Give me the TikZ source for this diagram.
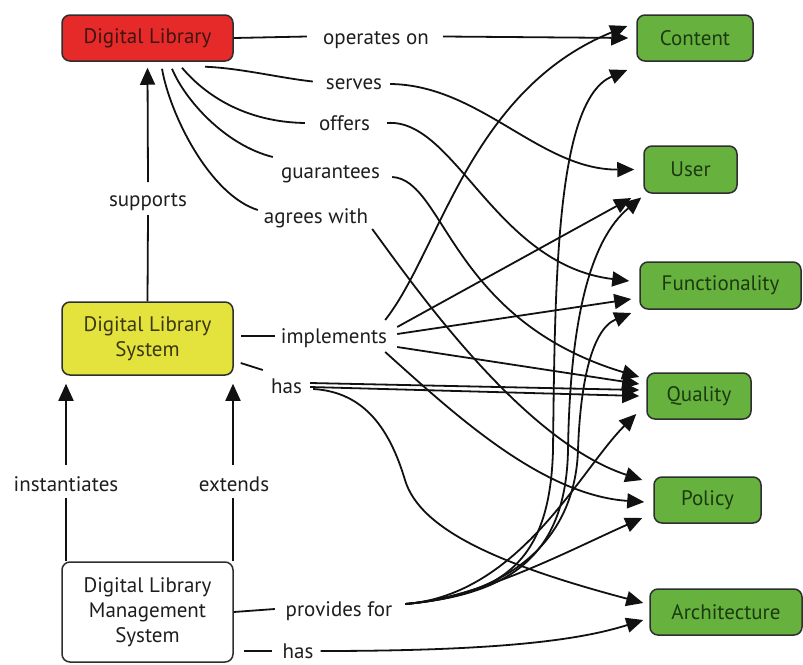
\documentclass[tikz,border=0pt]{standalone}
\usepackage{fontspec}
\setmainfont{PT Sans}
\usetikzlibrary{arrows.meta}
\definecolor{dlred}{HTML}{E62A2A}
\definecolor{dlyellow}{HTML}{E4E23C}
\definecolor{dlgreen}{HTML}{67B23F}
\definecolor{boxline}{HTML}{2E2E2E}
\definecolor{lbltext}{HTML}{1E1E1E}
\definecolor{linecol}{HTML}{111111}
\definecolor{redtext}{HTML}{401510}
\definecolor{greentext}{HTML}{1C3A10}
\definecolor{yellowtext}{HTML}{3A3812}
\newcommand{\lowtxt}[1]{\raisebox{-2.5pt}{#1}}
\begin{document}
\begin{tikzpicture}[x=1pt,y=-1pt,
  box/.style={draw=boxline, line width=1.5pt, rounded corners=8pt, inner sep=0pt, align=center, font=\fontsize{21}{25}\selectfont},
  lbl/.style={inner sep=0pt, anchor=mid, font=\fontsize{21}{25}\selectfont, text=lbltext},
  conn/.style={line width=1.8pt, draw=linecol},
  arr/.style={conn, -{Triangle[length=17pt,width=15pt]}},
]
\fontsize{21}{25}\selectfont
\useasboundingbox[fill=white] (0,0) rectangle (803,664);

% main boxes
\node[box, fill=dlred, text=redtext, minimum width=171pt, minimum height=46pt] (DL) at (147.5,38) {Digital Library};
\node[box, fill=dlyellow, text=yellowtext, minimum width=171pt, minimum height=73pt] (DLS) at (147.5,338.5) {Digital Library\\System};
\node[box, fill=white, text=lbltext, minimum width=171pt, minimum height=100pt] (DLMS) at (147.5,612) {Digital Library\\Management\\System};

% target boxes
\node[box, fill=dlgreen, text=greentext, minimum width=116pt, minimum height=46pt] (content) at (695,38) {Content};
\node[box, fill=dlgreen, text=greentext, minimum width=93pt, minimum height=47pt] (user) at (690.5,169.5) {User};
\node[box, fill=dlgreen, text=greentext, minimum width=161pt, minimum height=47pt] (func) at (720.5,285.5) {Functionality};
\node[box, fill=dlgreen, text=greentext, minimum width=104pt, minimum height=46pt] (quality) at (699,396) {Quality};
\node[box, fill=dlgreen, text=greentext, minimum width=107pt, minimum height=46pt] (policy) at (707.5,500) {Policy};
\node[box, fill=dlgreen, text=greentext, minimum width=152pt, minimum height=46pt] (arch) at (726,612) {Architecture};

% labels
\node[lbl, minimum width=112pt] (ops) at (376,36.5) {\lowtxt{operates on}};
\node[lbl, minimum width=58pt] (serves) at (354,81.5) {\lowtxt{serves}};
\node[lbl, minimum width=53pt] (offers) at (344.5,123) {\lowtxt{offers}};
\node[lbl, minimum width=105pt] (guar) at (330.5,171) {\lowtxt{guarantees}};
\node[lbl, minimum width=108pt] (agrees) at (316,216) {\lowtxt{agrees with}};
\node[lbl, minimum width=82pt] (sup) at (148,199) {\lowtxt{supports}};
\node[lbl, minimum width=112pt] (impl) at (334,336) {\lowtxt{implements}};
\node[lbl, minimum width=31pt] (hasA) at (286.5,386) {\lowtxt{has}};
\node[lbl, minimum width=108pt] (inst) at (66,484) {\lowtxt{instantiates}};
\node[lbl, minimum width=74pt] (ext) at (234,484) {\lowtxt{extends}};
\node[lbl, minimum width=112pt] (prov) at (339,609) {\lowtxt{provides for}};
\node[lbl, minimum width=30pt] (hasB) at (298,651) {\lowtxt{has}};

% Digital Library relations
\draw[conn] (DL.east) -- ([xshift=-13pt]ops.mid west);
\draw[arr] ([xshift=11pt]ops.mid east) -- ([xshift=-8pt]content.west);

\draw[conn] ([xshift=57.5pt,yshift=-5pt]DL.south) .. controls (240,68) and (280,78) .. ([xshift=-12pt]serves.mid west);
\draw[arr] ([xshift=7pt,yshift=-2.5pt]serves.mid east) .. controls (480,85) and (540,170) .. ([xshift=-9pt]user.west);

\draw[conn] ([xshift=34.5pt,yshift=-6pt]DL.south) .. controls (205,95) and (245,122) .. ([xshift=-13pt]offers.mid west);
\draw[arr] ([xshift=16pt]offers.mid east) .. controls (455,118) and (495,265) .. ([xshift=-10pt,yshift=4.5pt]func.west);

\draw[conn] ([xshift=24.5pt,yshift=-7pt]DL.south) .. controls (185,100) and (225,145) .. ([xshift=-5pt,yshift=14pt]guar.mid west);
\draw[arr] ([xshift=9pt,yshift=-6pt]guar.mid east) .. controls (445,180) and (450,320) .. ([xshift=-7pt,yshift=19pt]quality.west);

\draw[conn] ([xshift=14.5pt,yshift=-7pt]DL.south) .. controls (170,115) and (210,195) .. ([xshift=-4pt,yshift=6pt]agrees.mid west);
\draw[arr] ([xshift=2pt,yshift=-13pt]agrees.mid east) .. controls (410,280) and (520,440) .. ([xshift=-11pt,yshift=20pt]policy.west);

% supports / instantiates / extends
\draw[conn] (DLS.north) -- ([yshift=-16pt]sup.mid);
\draw[arr] ([yshift=17pt]sup.mid) -- ([yshift=-6pt]DL.south);

\draw[conn] ([xshift=-81.5pt]DLMS.north) -- ([yshift=-14pt]inst.mid);
\draw[arr] ([yshift=19pt]inst.mid) -- ([xshift=-81.5pt,yshift=-8pt]DLS.south);

\draw[conn] ([xshift=85.5pt]DLMS.north) -- ([xshift=-1pt,yshift=-14pt]ext.mid);
\draw[arr] ([xshift=-1pt,yshift=19pt]ext.mid) -- ([xshift=85.5pt,yshift=-8pt]DLS.south);

% Digital Library System relations
\draw[conn] ([xshift=7pt,yshift=2.5pt]DLS.east) -- ([xshift=-3pt]impl.mid west);
\draw[arr] ([xshift=-5pt,yshift=16pt]impl.mid east) .. controls (440,250) and (470,90) .. ([xshift=-9pt,yshift=12pt]content.west);
\draw[arr] ([xshift=7pt,yshift=9pt]impl.mid east) -- ([xshift=-12pt,yshift=-28.5pt]user.west);
\draw[arr] ([xshift=7pt,yshift=2pt]impl.mid east) -- ([xshift=-8pt,yshift=-13.5pt]func.west);
\draw[arr] ([xshift=7pt,yshift=-11pt]impl.mid east) -- ([xshift=-7pt,yshift=12pt]quality.west);
\draw[arr] ([xshift=-5pt,yshift=-16pt]impl.mid east) .. controls (450,410) and (540,495) .. ([xshift=-9pt,yshift=-2pt]policy.west);

\draw[conn] ([xshift=7pt,yshift=-24.5pt]DLS.east) -- ([xshift=-8pt,yshift=16pt]hasA.mid west);
\draw[arr] ([xshift=8pt,yshift=3pt]hasA.mid east) -- ([xshift=-7pt,yshift=6pt]quality.west);
\draw[arr] ([xshift=8pt,yshift=-1pt]hasA.mid east) -- ([xshift=-7pt]quality.west);
\draw[arr] ([xshift=11pt,yshift=-3pt]hasA.mid east) .. controls (365,392) and (390,430) .. (405,480) .. controls (420,530) and (500,565) .. ([xshift=-6pt,yshift=9pt]arch.west);

% Digital Library Management System relations
\draw[conn] (DLMS.east) -- ([xshift=-8pt]prov.mid west);
\draw[arr] ([xshift=10pt,yshift=5pt]prov.mid east) .. controls (500,595) and (550,565) .. (553,450) .. controls (555,280) and (556,100) .. ([xshift=-9pt,yshift=-32pt]content.west);
\draw[arr] ([xshift=10pt,yshift=5pt]prov.mid east) .. controls (505,595) and (566,560) .. (568,450) .. controls (570,320) and (590,240) .. ([xshift=-2pt,yshift=-28pt]user.west);
\draw[arr] ([xshift=10pt,yshift=5pt]prov.mid east) .. controls (510,595) and (575,540) .. (578,450) .. controls (580,390) and (590,330) .. ([xshift=-8pt,yshift=-27.5pt]func.west);
\draw[arr] ([xshift=10pt,yshift=5pt]prov.mid east) .. controls (520,595) and (580,470) .. ([xshift=-10pt,yshift=-18pt]quality.west);
\draw[arr] ([xshift=10pt,yshift=5pt]prov.mid east) .. controls (480,598) and (570,550) .. ([xshift=-11pt,yshift=-18pt]policy.west);

\draw[conn] ([xshift=10pt,yshift=-39pt]DLMS.east) -- ([xshift=-10pt]hasB.mid west);
\draw[arr] ([xshift=7pt]hasB.mid east) .. controls (500,651) and (580,640) .. ([xshift=-6pt,yshift=-8pt]arch.west);
\end{tikzpicture}
\end{document}
